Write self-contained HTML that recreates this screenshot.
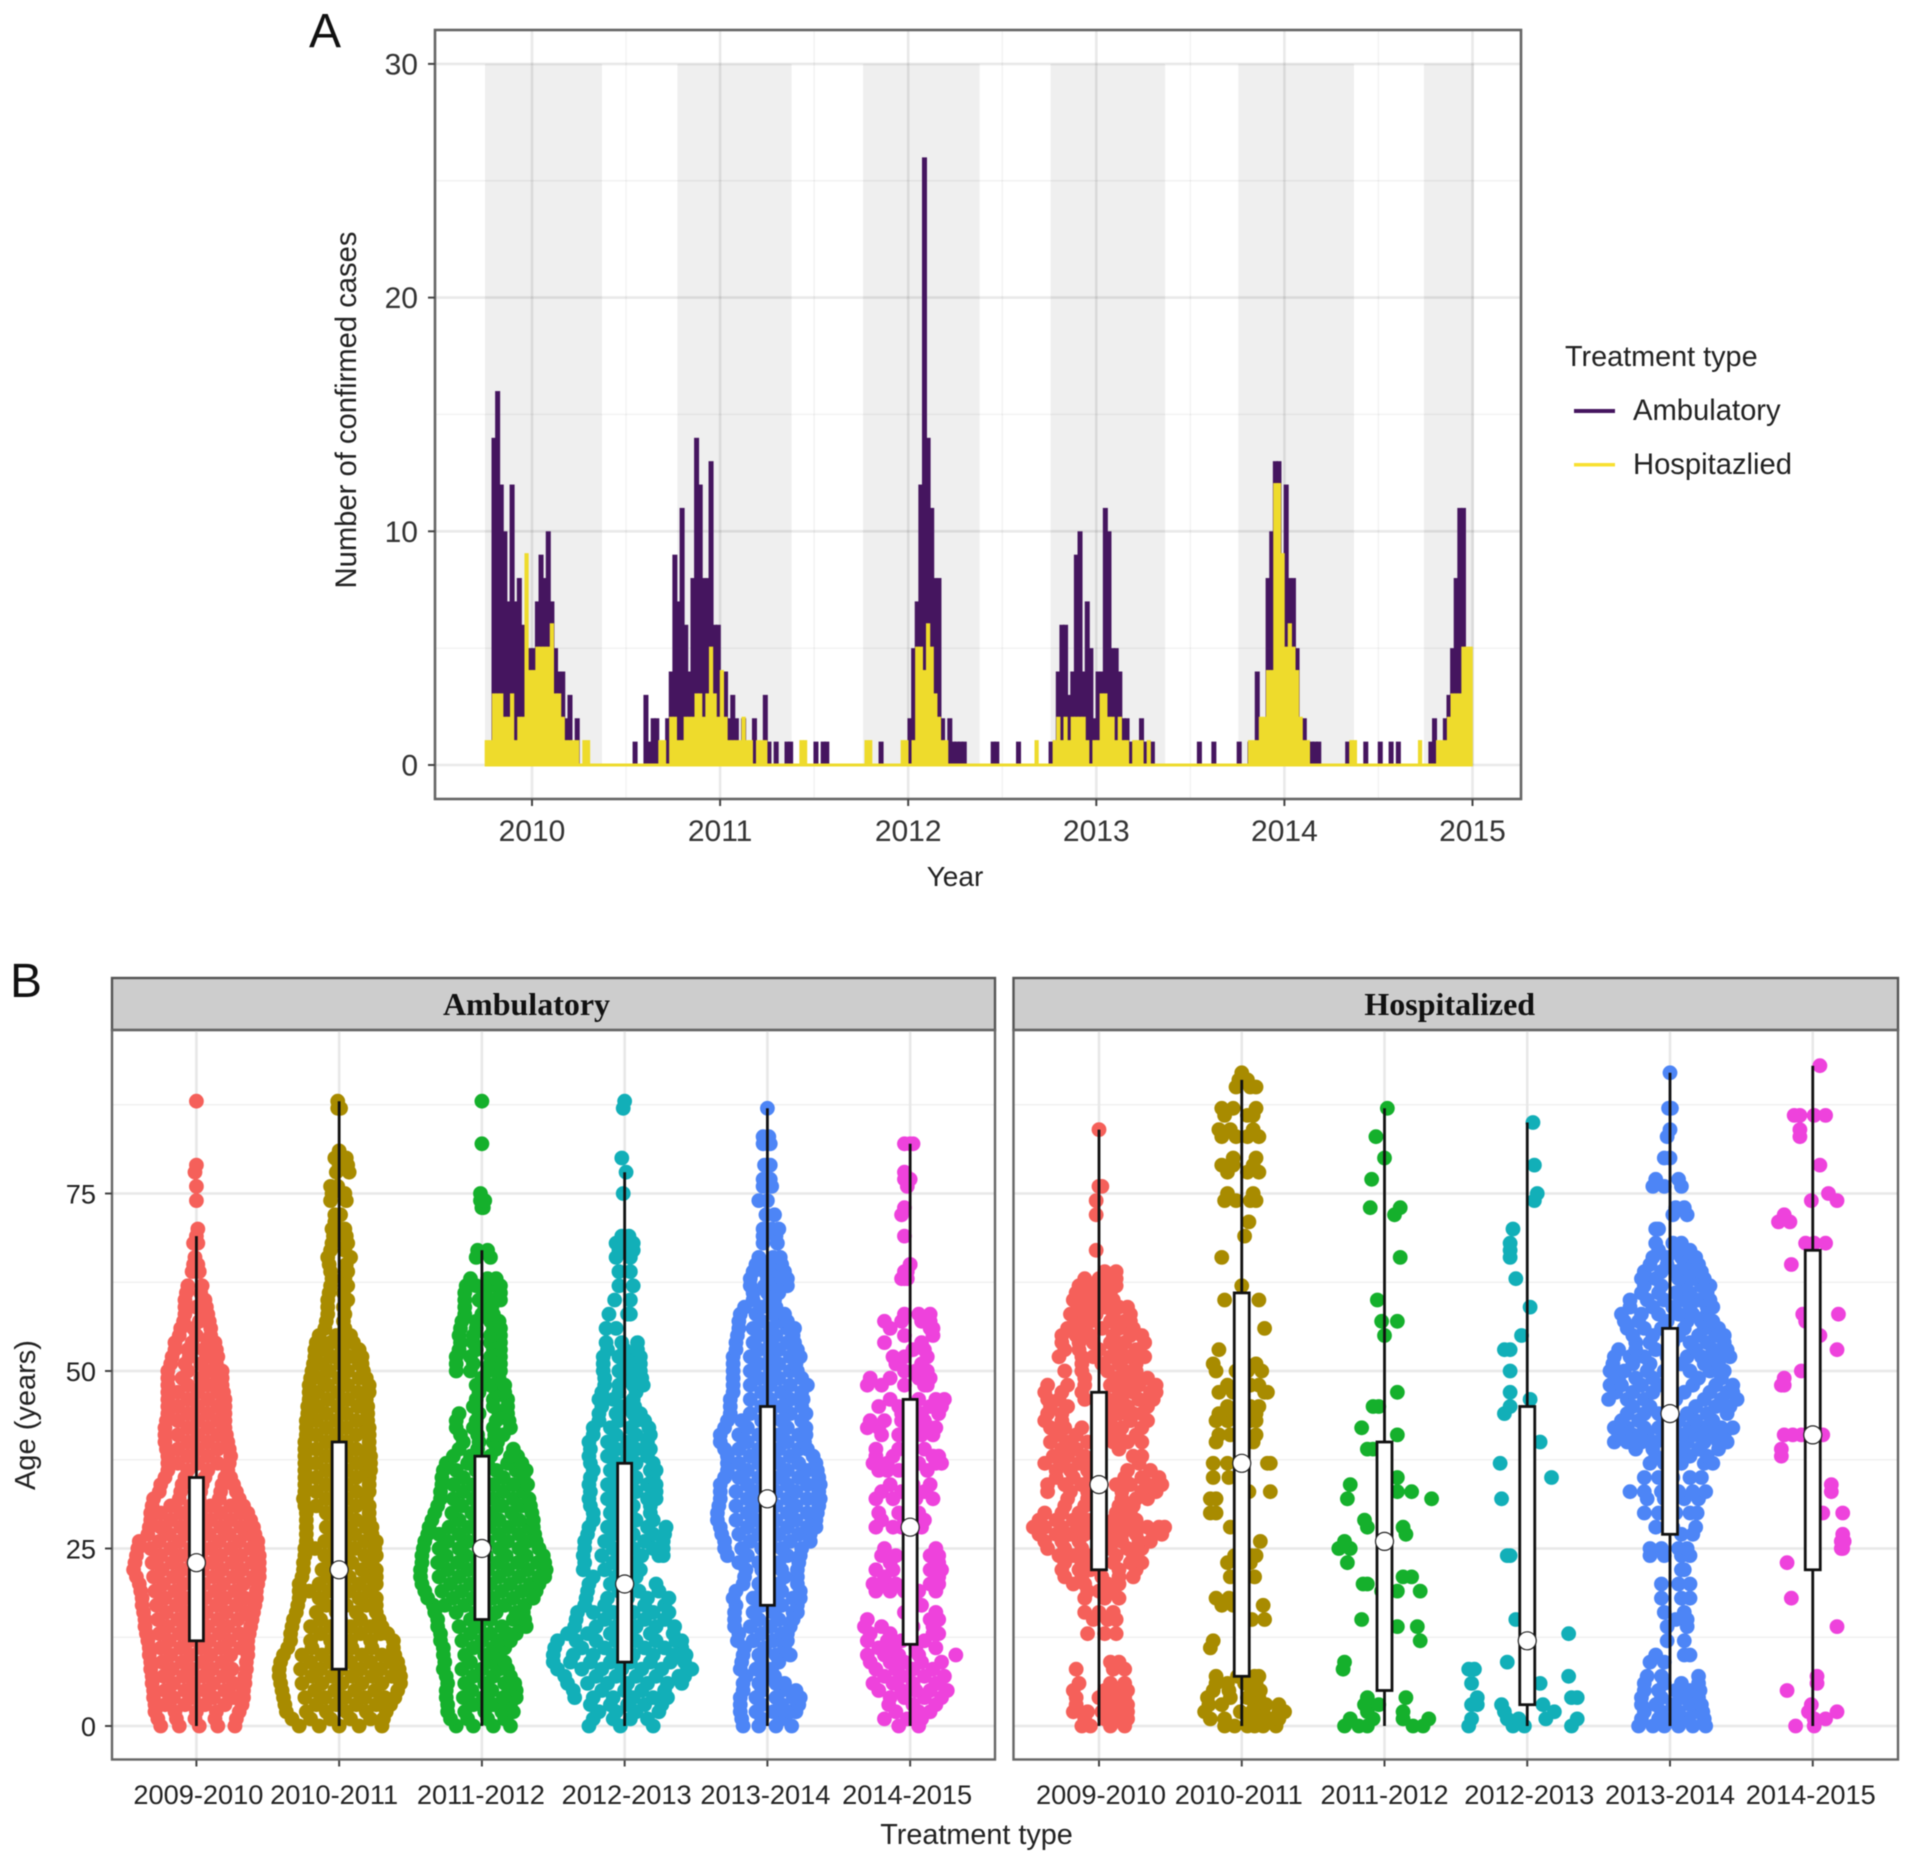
<!DOCTYPE html>
<html lang="en">
<head>
<meta charset="utf-8">
<title>Confirmed cases and age by treatment type</title>
<style>
html,body{margin:0;padding:0;background:#fff}
svg{display:block;font-family:"Liberation Sans",sans-serif;filter:blur(.6px)}
</style>
</head>
<body>
<svg id="chart" xmlns="http://www.w3.org/2000/svg" width="1913" height="1863" viewBox="0 0 1913 1863">
<rect x="0" y="0" width="1913" height="1863" fill="#fff"/>
<g id="panelA"></g>
<g id="panelB"></g>
<text x="309" y="47" font-size="48" fill="#111">A</text>
<text x="10" y="997" font-size="48" fill="#111">B</text>
<text x="955" y="886" font-size="28" fill="#222" text-anchor="middle">Year</text>
<text transform="translate(356,410) rotate(-90)" font-size="29.2" fill="#222" text-anchor="middle">Number of confirmed cases</text>
<text x="1565" y="366" font-size="28.8" fill="#222">Treatment type</text>
<rect x="1574" y="409" width="41" height="4" fill="#45155f"/>
<text x="1633" y="420" font-size="29.2" fill="#222">Ambulatory</text>
<rect x="1574" y="463" width="41" height="3.5" fill="#f8e031"/>
<text x="1633" y="474" font-size="29.2" fill="#222">Hospitazlied</text>
<text x="976.5" y="1844" font-size="28.8" fill="#222" text-anchor="middle">Treatment type</text>
<text transform="translate(35,1415) rotate(-90)" font-size="29" fill="#222" text-anchor="middle">Age (years)</text>
</svg>
<script>
/* ---------- Panel A data (weekly confirmed cases from Oct 2009) ---------- */
const seriesStartYear = 2009.75;
const weeksPerYear = 52;
const ambulatoryCases = [
0,1,14,16,12,10,7,12,7,8, 6,3,5,5,7,9,8,10,7,5, 4,4,2,3,1,2,0,0,0,0,
0,0,0,0,0,0,0,0,0,0, 0,1,0,0,3,1,2,2,0,0,
2,4,9,7,11,6,4,8,14,12, 8,8,13,6,6,4,4,2,3,2,
1,2,1,1,2,1,1,3,1,0, 1,0,0,1,1,0,0,0,0,0,
0,1,0,1,1,0,0,0,0,0, 0,0,0,0,0,0,0,0,0,1,
0,0,0,0,0,0,0,2,5,7, 12,26,14,11,8,8,2,1,2,1,
1,1,1,0,0,0,0,0,0,0, 1,1,0,0,0,0,0,1,0,0,
0,0,0,0,0,0,1,1,4,6, 6,3,4,9,10,4,7,5,2,4,
4,11,10,5,5,4,2,2,1,1, 1,2,1,1,1,0,0,0,0,0,
0,0,0,0,0,0,0,1,0,0, 0,1,0,0,0,0,0,0,1,0,
0,1,0,4,2,2,8,10,13,13, 9,12,8,8,5,2,2,1,1,1,
1,0,0,0,0,0,0,0,1,0, 0,0,0,1,0,0,0,1,0,0,
1,0,1,0,0,0,0,0,0,0, 0,1,2,0,0,2,3,5,8,11,
11,0,0];
const hospitalizedCases = [
1,1,3,3,3,2,2,3,1,2, 2,9,4,4,5,5,5,5,6,3, 3,2,1,1,1,1,0,1,1,0,
0,0,0,0,0,0,0,0,0,0, 0,0,0,0,0,0,0,0,1,1,
0,2,2,1,1,2,2,2,3,3, 2,3,5,3,2,4,2,1,1,1,
1,2,1,1,0,1,1,1,0,0, 0,0,0,0,0,0,0,1,1,0,
0,0,0,0,0,0,0,0,0,0, 0,0,0,0,0,1,1,0,0,0,
0,0,0,0,0,1,1,0,1,5, 5,4,6,5,3,2,1,1,0,0,
0,0,0,0,0,0,0,0,0,0, 0,0,0,0,0,0,0,0,0,0,
0,0,1,0,0,0,0,1,2,1, 2,1,2,2,2,2,1,0,1,1,
3,3,2,2,1,2,1,1,0,1, 1,1,0,1,0,0,0,0,0,0,
0,0,0,0,0,0,0,0,0,0, 0,0,0,0,0,0,0,0,0,0,
0,1,1,1,2,2,4,4,12,12, 9,5,6,5,4,2,1,1,0,0,
0,0,0,0,0,0,0,0,0,1, 1,0,0,0,0,0,0,0,0,0,
0,0,0,0,0,0,0,0,1,0, 0,0,0,1,1,1,2,3,3,3,
5,5,5];
const seasonStarts = [2009.75,2010.773,2011.76,2012.757,2013.755,2014.742];
const seasonEnds = [2010.372,2011.38,2012.38,2013.366,2014.37,2015.008];
const yearTicks = [2010,2011,2012,2013,2014,2015];
const yearMinorTicks = [2010.5,2011.5,2012.5,2013.5,2014.5];
const caseTicks = [0,10,20,30];
const caseMinorTicks = [5,15,25];

/* ---------- Panel B data ---------- */
const seasonLabels = ['2009-2010','2010-2011','2011-2012','2012-2013','2013-2014','2014-2015'];
const facetNames = ['Ambulatory','Hospitalized'];
const ageTicks = [0,25,50,75];
const ageMinorTicks = [12.5,37.5,62.5,87.5];
const ambulatoryQ1 = [12,8,15,9,17,11.5];
const ambulatoryMedian = [23,22,25,20,32,28];
const ambulatoryQ3 = [35,40,38,37,45,46];
const ambulatoryMax = [69,88,67,78,87,82];
const hospitalizedQ1 = [22,7,5,3,27,22];
const hospitalizedMedian = [34,37,26,12,44,41];
const hospitalizedQ3 = [47,61,40,45,56,67];
const hospitalizedMax = [84,91,87,85,92,93];

/* Each row: [age, jitter, jitter, ...]; jitter is in hundredths of a category step */
const ambulatory0910 = [
[0,-25,-12,2,15,27],[1,-27,-14,-1,13,28],[2,-29,-15,0,14,30],[3,-29,-22,-8,6,20,32],[4,-30,-16,-2,12,26,33],[5,-30,-22,-8,6,20,33],
[6,-31,-16,-2,12,26,34],[7,-31,-23,-9,5,19,34],[8,-32,-17,-3,11,25,35],[9,-32,-24,-10,4,18,35],[10,-33,-18,-4,10,24,36],[11,-33,-25,-11,3,17,31,36],
[12,-34,-19,-5,9,23,36],[13,-35,-26,-12,2,16,30,37],[14,-36,-20,-6,8,22,38],[15,-36,-27,-13,1,15,29,39],[16,-37,-21,-7,7,21,35,40],[17,-38,-28,-14,0,14,28,41],
[18,-38,-22,-8,6,20,34,42],[19,-39,-29,-15,-1,13,27,42],[20,-40,-23,-9,5,19,33,43],[21,-42,-30,-16,-2,12,26,40,44],[22,-44,-24,-10,4,18,32,44],[23,-43,-31,-17,-3,11,25,39,44],
[24,-42,-25,-11,3,17,31,44],[25,-41,-32,-18,-4,10,24,38,43],[26,-40,-26,-12,2,16,30,43],[27,-34,-19,-5,9,23,37,41],[28,-33,-25,-11,3,17,31,40],[29,-32,-18,-4,10,24,38],
[30,-32,-25,-11,3,17,31,36],[31,-31,-18,-4,10,24,33],[32,-30,-12,2,16,30],[33,-26,-11,3,17,28],[34,-25,-10,4,18,26],[35,-22,-8,6,20,24],[36,-20,-6,8,22],[37,-20,-13,1,15,23],
[38,-20,-6,8,24],[39,-21,-13,1,15,23],[40,-22,-6,8,22],[41,-22,-13,1,15,21],[42,-22,-6,8,20],[43,-21,-13,1,15,20],[44,-20,-6,8,20],[45,-20,-13,1,15,20],[46,-20,-6,8,20],
[47,-20,-13,1,15,19],[48,-20,-6,8,18],[49,-20,-10,3,15,18],[50,-20,-6,8,18],[51,-18,-8,3,14],[52,-17,-5,7,15],[53,-15,-6,5,14],[54,-15,-3,8,13],[55,-12,0,10],[56,-11,-2,10],
[57,-9,2,9],[58,-8,4,8],[59,-8,0,7],[60,-8,6],[61,-7,3],[62,-6,4],[64,-3,2],[65,-2,1],[66,-1],[68,-2,1],[69,0],[70,1],[74,0],[76,0],[78,-1],[79,0],[88,0]];
const ambulatory1011 = [
[0,-28,-14,0,14,30],[1,-33,-20,-6,8,22,31],[2,-37,-23,-9,5,19,33],[3,-38,-16,-2,12,26,36],[4,-39,-24,-10,4,18,32,39],[5,-40,-17,-3,11,25,41],[6,-41,-26,-12,2,16,30,43],
[7,-42,-19,-5,9,23,37,43],[8,-42,-27,-13,1,15,29,42],[9,-41,-20,-6,8,22,36,41],[10,-39,-26,-12,2,16,30,39],[11,-36,-19,-5,9,23,38],[12,-34,-20,-6,8,22,38],[13,-34,-13,1,15,29,34],
[14,-33,-20,-6,8,22,30],[15,-32,-13,1,15,28],[16,-30,-16,-2,12,26],[17,-29,-9,5,19,26],[18,-28,-14,0,14,26],[19,-28,-21,-7,7,21],[20,-28,-14,0,14,26],[21,-26,-7,7,21,26],
[22,-25,-12,2,16,26],[23,-25,-5,9,23],[24,-24,-10,4,18,26],[25,-24,-17,-3,11,25],[26,-23,-10,4,18,26],[27,-23,-3,11,23],[28,-23,-9,5,19,23],[29,-23,-2,12,21],[30,-23,-9,5,21],
[31,-24,-16,-2,12,21],[32,-25,-9,5,19],[33,-24,-16,-2,12,21],[34,-24,-9,5,21],[35,-24,-16,-2,12,21],[36,-24,-9,5,19,22],[37,-24,-16,-2,12,22],[38,-24,-9,5,19,22],[39,-24,-16,-2,12,21],
[40,-24,-9,5,21],[41,-23,-16,-2,12,21],[42,-23,-9,5,19,21],[43,-23,-16,-2,12,20],[44,-22,-9,5,20],[45,-22,-15,-1,13,20],[46,-21,-8,6,19],[47,-21,-15,-1,13,21],[48,-21,-8,6,21],
[49,-20,-13,0,14,19],[50,-19,-7,6,17],[51,-18,-12,1,14,16],[52,-17,-5,7,16],[53,-17,-10,2,14],[54,-16,-6,5,10],[55,-14,-2,8],[56,-10,4],[57,-9,3],[58,-8,4],[59,-8,3],[60,-8,6],
[61,-7,3],[62,-6,6],[63,-5,4],[64,-6,6],[65,-7,5],[66,-8,8],[67,-6,4],[68,-5,6],[69,-4,5],[70,-5,4],[71,-3],[72,-3,1],[74,-6,5],[75,-5,4],[76,-6,-1],[78,-2,7],[79,0,6],[80,-3,5],[81,0],[87,-1,1],[88,-1]];
const ambulatory1112 = [
[0,-18,-6,8,20],[1,-22,-10,4,16],[2,-24,-12,2,14,22],[3,-24,-6,8,20],[4,-25,-13,1,15,24],[5,-25,-7,7,19,24],[6,-24,-12,2,16,23],[7,-25,-6,8,20],[8,-27,-14,0,12,18],[9,-26,-8,6,16],
[10,-27,-12,2,11],[11,-27,-6,8,16],[12,-29,-14,0,12,20],[13,-29,-8,6,18,24],[14,-31,-16,-2,14,28,31],[15,-31,-8,6,22,30],[16,-33,-18,-4,10,24,29],[17,-34,-26,-12,2,16,30],[18,-38,-20,-6,8,22,36],
[19,-40,-28,-14,0,14,28,38],[20,-42,-22,-8,6,20,34,40],[21,-43,-30,-16,-2,12,26,40,44],[22,-43,-24,-10,4,18,32,45],[23,-42,-31,-17,-3,11,25,39,44],[24,-42,-25,-11,3,17,31,43],
[25,-41,-30,-16,-2,12,26,40],[26,-40,-24,-10,4,18,32,38],[27,-38,-30,-16,-2,12,26,37],[28,-37,-23,-9,5,19,33,36],[29,-35,-16,-2,12,26,36],[30,-33,-21,-7,7,21,35],[31,-31,-14,0,14,28,34],
[32,-29,-20,-6,8,22,33],[33,-29,-13,1,15,29],[34,-28,-20,-6,8,22,32],[35,-28,-13,1,15,29],[36,-27,-18,-4,10,24,31],[37,-25,-10,4,18,28],[38,-20,-8,6,20,25],[39,-16,-3,10,22],[40,-13,-2,8,11],
[41,-15,-3,9,15],[42,-18,-6,8,20],[43,-18,-4,10,19],[44,-16,-2,12,18],[45,-6,8,18],[46,-4,8,18],[47,-2,10,16],[48,-4,6,16],[49,0,12],[50,-18,-8,4,13],[51,-18,-6,6,13],[52,-18,-8,6,13],
[53,-16,-4,8,13],[54,-15,-6,6,13],[55,-16,-6,6,13],[56,-15,-4,8,13],[57,-14,-4,6,12],[58,-12,0,8],[59,-12,2,7],[60,-12,-2,8,13],[61,-12,2,13],[62,-11,-4,6,13],[63,-8,4,10],[66,-4,6],[67,-3,4],[73,0,1],[74,-1,2],[75,-1],[82,0],[88,0]];
const ambulatory1213 = [
[0,-25,-3,20],[1,-22,-8,4,16],[2,-18,-6,8,24],[3,-24,-10,2,14,26],[4,-35,-22,-8,6,20,30],[5,-36,-16,0,12,28],[6,-40,-26,-12,2,16,30,40],[7,-42,-20,-6,8,22,38,42],[8,-47,-30,-16,-2,12,26,44,47],
[9,-50,-38,-24,-10,4,18,32,42],[10,-50,-36,-22,-8,6,20,34,43],[11,-49,-30,-14,0,14,28,40],[12,-47,-34,-20,-6,8,22,36,40],[13,-40,-26,-10,4,18,34],[14,-35,-20,-6,8,22,35],[15,-34,-14,0,14,28],
[16,-33,-22,-8,6,20,31],[17,-28,-14,0,14,28],[18,-27,-12,2,16,31],[19,-26,-4,10,24],[20,-25,-10,4,22],[21,-22,-6,8],[22,-29,-14,-2,11],[23,-28,-8,8],[24,-29,-16,-2,12,24,27],[25,-28,-8,6,20,27],
[26,-28,-14,0,14,27],[27,-26,-8,6,20,28],[28,-25,-12,2,16,29],[29,-22,-6,8,20],[30,-22,-10,4,18],[31,-24,-8,6,18],[32,-25,-12,2,16,22],[33,-24,-6,8,22],[34,-25,-12,2,16,22],[35,-24,-6,8,20],
[36,-22,-10,4,18,22],[37,-24,-6,8,20],[38,-25,-12,2,16],[39,-24,-6,8,18],[40,-25,-12,2,16],[41,-22,-6,8,18],[42,-22,-10,4,17],[43,-18,-4,8,14],[44,-18,-6,6,11],[45,-16,-2,7],[46,-18,-8,6],
[47,-16,-4,8],[48,-14,-4,6,13],[49,-14,0,12],[50,-15,-4,6,11],[51,-15,0,11],[52,-15,-4,6,11],[53,-12,0,9],[54,-13,-2,9],[56,-13,-6],[58,-11,2,4],[60,-7,4],[62,-4,6],[64,-4,4],[66,-6,4],[67,-4,6],[68,-6,0,6],[69,-2,3],[75,-1],[78,1],[80,-2],[87,-1],[88,0]];
const ambulatory1314 = [
[0,-17,-6,6,17],[1,-18,-4,10],[2,-19,-8,4,16,20],[3,-19,-4,10,22],[4,-19,-8,6,18,23],[5,-17,-4,10,20],[6,-17,-6,6,12],[7,-15,-2,5],[8,-19,-8,3],[9,-18,-4,8],[10,-17,-6,6,16],[11,-16,-2,12],
[12,-21,-10,4,14],[13,-20,-4,10,14],[14,-23,-12,2,16],[15,-23,-6,8,18],[16,-23,-10,4,18,21],[17,-22,-4,10,21],[18,-24,-10,4,18,23],[19,-22,-4,10,23],[20,-17,-6,8,21],[21,-16,-2,12,21],
[22,-15,-4,10,21],[23,-20,-6,8,22],[24,-28,-14,0,14,23],[25,-30,-18,-4,10,24],[26,-30,-12,2,16,30],[27,-32,-20,-6,8,22,30],[28,-33,-14,0,14,28,34],[29,-35,-22,-8,6,20,34],[30,-35,-14,0,14,28,35],
[31,-34,-22,-8,6,20,36],[32,-33,-14,0,14,28,37],[33,-33,-22,-8,6,20,36],[34,-33,-14,0,14,28,37],[35,-30,-20,-6,8,22,36],[36,-28,-14,0,14,28,35],[37,-28,-20,-6,8,22,34],[38,-28,-12,2,16,32],[39,-30,-20,-6,8,22,28],
[40,-33,-14,0,14,26],[41,-33,-20,-6,8,22,27],[42,-30,-14,0,14,27],[43,-28,-18,-4,10,24],[44,-26,-12,2,16,27],[45,-26,-4,10,24],[46,-26,-12,2,16,25],[47,-24,-4,10,24],[48,-24,-12,2,16,28],[49,-24,-6,8,24],
[50,-24,-12,2,16,21],[51,-24,-6,8,20],[52,-24,-12,2,16,23],[53,-22,-6,8,21],[54,-22,-10,2,14,19],[55,-21,-6,6,18],[56,-20,-10,2,14,19],[57,-20,-4,8,14],[58,-19,-8,4,12],[59,-16,-4,6],[60,-10,2,5],[61,-10,0,8],
[62,-12,-2,8,14],[63,-12,0,10,14],[64,-10,-2,8,12],[65,-8,2,10],[66,-6,4,9],[68,-3,7],[69,-3,6],[70,-3,3,8],[72,-1,5],[74,-6,0],[76,-3,3],[77,-3,2],[79,-2,2],[82,-3,2],[83,-3,1],[87,0]];
const ambulatory1415 = [
[0,-8,6],[1,-18,-2,8],[2,-10,6,14],[3,-15,2,18],[4,-14,-4,10,22],[5,-22,-6,4,14,26],[6,-26,-12,2,18,20],[7,-18,-6,10,24],[8,-24,-10,2,16],[9,-28,-14,-4,8,22],[10,-30,-18,-8,6,32],[11,-22,-12,4,18],
[12,-30,-16,-6,10],[13,-28,-14,16,20],[14,-32,-20,2,16],[15,-30,14,20],[16,-4,18],[17,2,8],[19,-24,-14,-4,6,18],[20,-26,-16,-10,14,20],[21,-18,20,18],[22,-24,-12,14,22],[23,-14,18,20],[24,-20,-10,14,20],
[25,-18,18],[28,-24,-12,-6,8],[29,-20,-4,2,10],[30,-22,-8,6],[32,-24,-12,4,16],[33,-20,-6,10],[34,-14,2,14],[36,-22,-16,-8,12],[37,-26,-16,6,18,22],[38,-24,-12,16,20],[39,-24,-8,10],[41,-20,-8,8,16],
[42,-30,-22,6,14,18],[43,-28,-18,-6,10],[44,-6,8,20],[45,-22,-8,14,22],[46,-14,6,18,24],[48,-30,-20,-4,10,12],[49,-28,-14,6,14],[50,-4,4,12],[51,-10,8],[52,-12,-4,12],[53,2,10],[54,-18,8],[55,-4,16],[56,-14,14,16],[57,-18,-6,8,14],[58,-4,6,14],
[63,-6,-2,-4],[64,-4,-2],[65,0,0],[69,-4],[72,-6],[73,-4],[76,-2],[77,-4,0],[78,-4],[82,-4,0,2]];
const hospitalized0910 = [
[0,-12,-6,8,18],[1,-10,4,14,20],[2,-18,-8,2,12,20],[3,-16,6,14,20],[4,-16,0,10,18],[5,-18,4,12,20],[6,-14,8,18],[8,-16,10,18],[9,8,14],[13,-8,4,12],[15,-4,6,12],[16,-10,0,10],
[18,-10,4,14],[19,-8,0,8],[20,-18,-10,6,14],[21,-24,-12,2,14,24],[22,-26,-14,-6,14,26],[23,-24,-12,10,22,30],[24,-28,-18,-8,12,24],[25,-36,-24,-12,8,20,30],[26,-38,-26,-14,6,16,28,36],
[27,-42,-30,-20,-10,8,16,26,38,44],[28,-46,-38,-26,-14,-6,6,14,24,34,42,46],[29,-42,-30,-18,-8,10,18,26],[30,-38,-26,-14,12,22],[31,-24,-10,14,24],[32,-22,-8,16,26,34],[33,-36,-20,-8,16,30,40],
[34,-36,-24,-12,12,22,34,44],[35,-30,-18,-6,18,30,42],[36,-30,-20,-8,20,36],[37,-38,-26,-14,-6,28],[38,-32,-22,-10,24,30],[39,-26,-16,14],[40,-34,-22,-8,10,20,30],[41,-28,-16,8,14,26],[42,-34,-24,-12,6,16,30],
[43,-38,-26,8,22,34],[44,-36,-26,4,14,24,30],[45,-34,-22,10,20,34],[46,-36,-28,-10,6,16,28,38],[47,-38,-26,-12,14,24,36,40],[48,-36,-22,-10,8,18,28,40],[49,-10,12,24,34],[50,-24,-12,6,18,26],[51,-12,2,14,26],
[52,-28,-12,-4,8,20,32],[53,-24,-14,0,14,26],[54,-26,-14,-4,8,18,32],[55,-26,-16,-6,10,22,30],[56,-22,-10,2,14,24],[57,-16,-6,8,18,22],[58,-20,-10,-2,10,22],[59,-14,-4,4,14,20],[60,-18,-8,0,10],[61,-16,-6,2,8],
[62,-14,-4,4,10,12],[63,-10,0,10,12],[64,4,12],[67,-2],[72,-2],[74,-2],[76,0,2],[84,0]];
const hospitalized1011 = [
[0,-12,-5,4,9,15,24],[1,-22,-12,5,13,21,26],[2,-26,-1,7,15,26,30],[3,-23,-14,9,17,26],[4,-24,-8,4,12],[5,-20,-9,7,13],[6,-18,-10,2,10],[7,-18,-3,9,12],[11,-22],[12,-20],[15,7,16],[17,-14,-6,15],[18,-18,-9],
[21,-8,9],[23,-10,6],[24,-5,7,10],[26,13],[28,-8],[30,-22,-18],[32,-18,-22],[33,5,20],[35,-20,-9],[37,-20,-10,18,20],[40,-18,4,8],[41,-16,-8,10],[43,-18,-10,6,10],[44,-16,-6,10],[45,-10,6,12],[47,-16,-6,16,18],
[48,-10,6,12],[50,-18,-4,4,14],[51,-20,10],[53,-16],[56,16],[60,-12,12],[62,0],[66,-14],[69,2],[71,5],[74,-12,-4,6,10],[75,-10,8],[78,-10,4,12],[79,-14,-6,8],[80,-6,10],[83,-14,-4,4,12],[84,-16,-8,8],[86,-12,4,8],[87,-14,-6,10],[90,-4,6,10],[91,-2,4],[92,0]];
const hospitalized1112 = [
[0,-28,-18,-12,20,27],[1,-24,-8,13,31],[2,-12,13],[3,-14,-4],[4,-12,15],[8,-29],[9,-28],[12,25],[14,9,23],[15,-16],[19,-2,9,25],[20,-15,-12],[21,13,19],[23,-26],[25,-32,-24],[26,-28],[27,15],[28,-12,13],[29,-14],
[32,-26,33],[33,9,19],[34,-24],[35,9],[39,-12,-8],[41,9],[42,-16],[45,-8,-4],[47,9],[55,0],[57,-2,9],[60,-5],[66,11],[72,7],[73,-10,11],[77,-9],[80,0],[83,-6],[87,2]];
const hospitalized1213 = [
[0,-41,-10,-2,31],[1,-39,-14,-6,13,35],[2,-16,19],[3,-39,-35,-18,11],[4,-35,31,35],[6,-39,9],[7,29],[8,-41,-37],[9,-14],[13,29],[15,-8],[24,-14,-12],[32,-18],[35,17],[37,-19],[40,9],[44,-16],[45,-12],[46,2],[47,-12],
[50,-12],[53,-16,-12],[55,-4],[59,2],[63,-8],[66,-12],[67,-12],[68,-12],[70,-10],[74,5],[75,7],[79,5],[85,4]];
const hospitalized1314 = [
[0,-22,-12,-4,6,16,25],[1,-20,-8,2,12,24],[2,-18,-6,6,18,23],[3,-20,-10,2,14,22],[4,-20,-6,8,20],[5,-18,-8,4,14,21],[6,-18,-4,8,20],[7,-16,-6,20],[9,-14,-4],[10,-10,10,14],[12,-2,10],[14,-2,12],[15,4,12],[16,-4,10],[18,-6,8,14],
[20,-6,6,14],[22,8,10],[24,-14,-4,8,14],[25,-14,-6,6,12],[27,8,16],[28,-10,2,18],[30,-18,-8,4,14,19],[32,-16,-4,10,20],[33,-28,-18,-6,6,16,25],[35,-18,-8,2,14,22],[37,-14,-4,8,24,30],[38,-10,2,14,26],[39,-24,-12,8,20,34],
[40,-39,-30,-20,-10,0,12,24,34,40],[41,-36,-26,-16,-4,8,18,30,38],[42,-39,-30,-18,-8,14,24,36,44],[43,-34,-22,6,18,30],[44,-30,-18,-8,12,26,40],[45,-26,-14,18,32,42],[46,-43,-30,-18,4,24,36,47],[47,-38,-26,-12,10,28,40,44],
[48,-42,-34,-20,-8,16,32,44],[49,-36,-24,-12,20,36],[50,-42,-32,-16,-4,14,28,38],[51,-40,-26,-14,8,24,34],[52,-39,-28,-18,-2,12,22,32,42],[53,-36,-24,-10,18,30,40],[54,-24,-14,2,14,26,38],[55,-26,-12,6,20,32,38],[56,-30,-18,-6,10,24,34],
[57,-32,-22,-2,12,22,30],[58,-34,-20,-8,6,16,26],[59,-28,-12,2,14,26,30],[60,-28,-16,-4,8,20,28],[61,-20,-8,4,14,26],[62,-18,-6,10,22,28],[63,-20,-10,6,16,24],[64,-18,-6,4,14,22],[65,-14,-2,10,20],[66,-12,-2,8,18],[67,-8,6,14],[68,-10,2,8],
[70,-10,-8],[72,2,12],[73,4,10],[76,-12,-4,8],[77,-10,6],[80,-4,0],[83,-2],[84,0],[87,-1,1],[92,0]];
const hospitalized1415 = [
[0,-12,1],[1,1,9],[2,-3,17],[3,-1],[5,-18],[6,3],[7,3],[14,17],[18,-15],[23,-18],[25,20,21],[26,20,22],[27,21],[30,7,21],[33,13],[34,13],[38,-22],[39,-22],[41,-20,-14,-8,0,7],[48,-22,-20],[49,-20],[50,-8],[53,17],[55,5],[57,-5],
[58,-7,18],[65,-15],[68,-5,1,9],[71,-24,-16],[72,-20],[74,-1,17],[75,11],[79,5],[83,-9],[84,-9],[86,-13,-9,1,9],[93,5]];

const ambulatoryPoints = [ambulatory0910,ambulatory1011,ambulatory1112,ambulatory1213,ambulatory1314,ambulatory1415];
const hospitalizedPoints = [hospitalized0910,hospitalized1011,hospitalized1112,hospitalized1213,hospitalized1314,hospitalized1415];

/* ---------- Helpers and scales ---------- */
const NS = 'http://www.w3.org/2000/svg';
function make(parent, tag, props, text) {
  const el = document.createElementNS(NS, tag);
  for (const k in props) el.setAttribute(k, props[k]);
  if (text !== undefined) el.textContent = text;
  parent.appendChild(el);
  return el;
}
const xYear = y => 532 + (y - 2010) * 188.1;
const yCases = v => 765 - v * 23.37;
const yAge = a => 1726 - a * 7.1;
const categoryStep = 142.75;
const facetLeft = [112, 1013.5];
const facetRight = [995, 1898];
const facetCat0 = [196.4, 1099];
const facetTitleNudge = [-27, -6];
const xCat = (f, c) => facetCat0[f] + c * categoryStep;
const seasonColors = ['#f5605a','#a88b00','#15b02c','#12afb8','#4d85f6','#ee42dc'];
const labelNudge = [[2,-5,-1,2,-2,-3],[2,-3,0,2,0,-2]];

/* ---------- Panel A ---------- */
const A = document.getElementById('panelA');
const aLeft = 435, aRight = 1521, aTop = 30, aBottom = 799;
seasonStarts.forEach((s, i) => {
  const band = make(A, 'rect', {x: xYear(s), y: yCases(30), width: xYear(seasonEnds[i]) - xYear(s), height: yCases(0) - yCases(30), fill: '#efefef'});
  
  
});
caseMinorTicks.forEach(v => {
  const g = make(A, 'line', {x1: aLeft, x2: aRight, y1: yCases(v), y2: yCases(v), stroke: 'rgba(0,0,0,.05)', 'stroke-width': 1.4});
  
  
});
yearMinorTicks.forEach(v => {
  const g = make(A, 'line', {x1: xYear(v), x2: xYear(v), y1: aTop, y2: aBottom, stroke: 'rgba(0,0,0,.05)', 'stroke-width': 1.4});
  
  
});
caseTicks.forEach(v => {
  const g = make(A, 'line', {x1: aLeft, x2: aRight, y1: yCases(v), y2: yCases(v), stroke: 'rgba(0,0,0,.085)', 'stroke-width': 2.6});
  
  
});
yearTicks.forEach(v => {
  const g = make(A, 'line', {x1: xYear(v), x2: xYear(v), y1: aTop, y2: aBottom, stroke: 'rgba(0,0,0,.085)', 'stroke-width': 2.6});
  
  
});
const xWeek = i => xYear(seriesStartYear + i / weeksPerYear);
ambulatoryCases.forEach((v, i) => {
  if (v <= 0) return;
  const bar = make(A, 'rect', {x: xWeek(i) - 0.7, y: yCases(v), width: xWeek(i + 1) - xWeek(i) + 1.4, height: yCases(0) - yCases(v), fill: '#45155f'});
  
  
});
hospitalizedCases.forEach((v, i) => {
  const bar = make(A, 'rect', {x: xWeek(i) - 0.3, y: yCases(v) - 1.5, width: xWeek(i + 1) - xWeek(i) + 0.6, height: yCases(0) - yCases(v) + 3, fill: '#eedb2c'});
  
  
});
const frameA = make(A, 'rect', {x: aLeft, y: aTop, width: aRight - aLeft, height: aBottom - aTop, fill: 'none', stroke: '#666', 'stroke-width': 2.6});


caseTicks.forEach(v => {
  const t = make(A, 'line', {x1: aLeft - 7, x2: aLeft, y1: yCases(v), y2: yCases(v), stroke: '#444', 'stroke-width': 2});
  
  
  const l = make(A, 'text', {x: aLeft - 17, y: yCases(v) + 10.5, 'font-size': 30, 'text-anchor': 'end', fill: '#333'}, String(v));
  
  
});
yearTicks.forEach(v => {
  const t = make(A, 'line', {x1: xYear(v), x2: xYear(v), y1: aBottom, y2: aBottom + 7, stroke: '#444', 'stroke-width': 2});
  
  
  const l = make(A, 'text', {x: xYear(v), y: 841, 'font-size': 30, 'text-anchor': 'middle', fill: '#333'}, String(v));
  
  
});

/* ---------- Panel B ---------- */
const B = document.getElementById('panelB');
const stripTop = 978, stripBottom = 1030, bBottom = 1759.5;
const boxStats = [
  {q1: ambulatoryQ1, med: ambulatoryMedian, q3: ambulatoryQ3, hi: ambulatoryMax, pts: ambulatoryPoints, w: 14},
  {q1: hospitalizedQ1, med: hospitalizedMedian, q3: hospitalizedQ3, hi: hospitalizedMax, pts: hospitalizedPoints, w: 15}
];
facetNames.forEach((name, f) => {
  const L = facetLeft[f], R = facetRight[f];
  const strip = make(B, 'rect', {x: L, y: stripTop, width: R - L, height: stripBottom - stripTop, fill: '#cdcdcd', stroke: '#555', 'stroke-width': 2.4});
  
  
  const title = make(B, 'text', {x: (L + R) / 2 + facetTitleNudge[f], y: 1015, 'font-size': 32, 'font-weight': 'bold', 'font-family': '"Liberation Serif",serif', 'text-anchor': 'middle', fill: '#111'}, name);
  
  
  ageMinorTicks.forEach(a => {
    const g = make(B, 'line', {x1: L, x2: R, y1: yAge(a), y2: yAge(a), stroke: '#f0f0f0', 'stroke-width': 1.5});
    
    
  });
  ageTicks.forEach(a => {
    const g = make(B, 'line', {x1: L, x2: R, y1: yAge(a), y2: yAge(a), stroke: '#e8e8e8', 'stroke-width': 2.6});
    
    
  });
  seasonLabels.forEach((s, c) => {
    const g = make(B, 'line', {x1: xCat(f, c), x2: xCat(f, c), y1: stripBottom, y2: bBottom, stroke: '#e8e8e8', 'stroke-width': 2.6});
    
    
  });
  const st = boxStats[f];
  seasonLabels.forEach((s, c) => {
    st.pts[c].forEach(row => {
      row.slice(1).forEach(j => {
        const p = make(B, 'circle', {cx: xCat(f, c + j / 100), cy: yAge(row[0]), r: 7.4, fill: seasonColors[c]});
        
        
      });
    });
  });
  seasonLabels.forEach((s, c) => {
    const x = xCat(f, c);
    const w = make(B, 'line', {x1: x, x2: x, y1: yAge(st.hi[c]), y2: yAge(0), stroke: '#111', 'stroke-width': 2.8});
    
    
    const b = make(B, 'rect', {x: x - st.w / 2, y: yAge(st.q3[c]), width: st.w, height: yAge(st.q1[c]) - yAge(st.q3[c]), fill: '#fff', stroke: '#111', 'stroke-width': 2.8});
    
    
    const m = make(B, 'circle', {cx: x, cy: yAge(st.med[c]), r: 9, fill: '#fff', stroke: '#222', 'stroke-width': 1.2});
    
    
    const t = make(B, 'line', {x1: x, x2: x, y1: bBottom, y2: bBottom + 7, stroke: '#444', 'stroke-width': 2});
    
    
    const l = make(B, 'text', {x: x + labelNudge[f][c], y: 1804, 'font-size': 27.2, 'text-anchor': 'middle', fill: '#222'}, s);
    
    
  });
  const frame = make(B, 'rect', {x: L, y: stripBottom, width: R - L, height: bBottom - stripBottom, fill: 'none', stroke: '#666', 'stroke-width': 2.4});
  
  
});
ageTicks.forEach(a => {
  const t = make(B, 'line', {x1: 105, x2: 112, y1: yAge(a), y2: yAge(a), stroke: '#444', 'stroke-width': 2});
  
  
  const l = make(B, 'text', {x: 96, y: yAge(a) + 10, 'font-size': 27.2, 'text-anchor': 'end', fill: '#222'}, String(a));
  
  
});
</script>
</body>
</html>
